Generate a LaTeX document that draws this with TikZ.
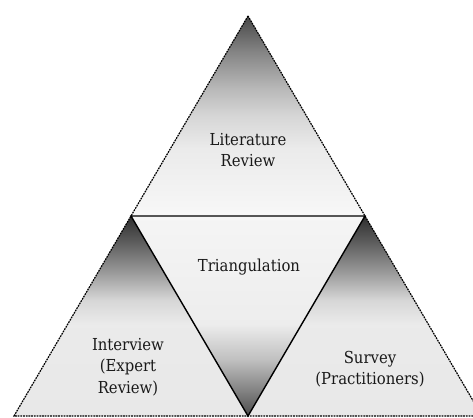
\documentclass[tikz,border=0pt]{standalone}
\usepackage{fontspec}
\setmainfont{DejaVu Serif Condensed}
\pgfdeclareverticalshading{topfade}{100bp}{color(0bp)=(black!3); color(25bp)=(black!3); color(42bp)=(black!8); color(50bp)=(black!16); color(57bp)=(black!28); color(66bp)=(black!48); color(75bp)=(black!72); color(100bp)=(black!72)}
\pgfdeclareverticalshading{lowfade}{100bp}{color(0bp)=(black!8); color(25bp)=(black!9); color(48bp)=(black!8); color(54bp)=(black!16); color(61bp)=(black!40); color(69bp)=(black!65); color(75bp)=(black!82); color(100bp)=(black!82)}
\pgfdeclareverticalshading{midfade}{100bp}{color(0bp)=(black!70); color(25bp)=(black!70); color(31bp)=(black!50); color(39bp)=(black!25); color(48bp)=(black!7); color(75bp)=(black!4); color(100bp)=(black!4)}
\tikzset{
  outer/.style={draw=black, line width=1.2pt, dash pattern=on 1.8pt off 0.9pt},
  inner/.style={draw=black, line width=1.4pt},
  lbl/.style={align=center, font=\fontsize{16.5}{21.5}\selectfont, text=black!90, inner sep=0pt}
}
\begin{document}
\begin{tikzpicture}[x=1pt,y=-1pt]
\useasboundingbox (0,0) rectangle (473,417);
\fill[white] (0,0) rectangle (473,417);
\coordinate (A) at (248,16);
\coordinate (L) at (14,416);
\coordinate (R) at (482,416);
\coordinate (ML) at (131,216);
\coordinate (MR) at (365,216);
\coordinate (MB) at (248,416);
% shadings
\shade[shading=topfade] (A)--(ML)--(MR)--cycle;
\shade[shading=lowfade] (ML)--(L)--(MB)--cycle;
\shade[shading=lowfade] (MR)--(MB)--(R)--cycle;
\shade[shading=midfade] (ML)--(MR)--(MB)--cycle;
% lines
\draw[inner] (ML)--(MR)--(MB)--cycle;
\draw[outer] (A)--(L)--(R)--cycle;
% labels
\node[lbl] (lit) at (248,150) {Literature\\Review};
\node[lbl] (tri) at (249,267) {Triangulation};
\node[lbl] (int) at (128,367) {Interview\\(Expert\\Review)};
\node[lbl] (sur) at (370,369) {Survey\\(Practitioners)};
\end{tikzpicture}
\end{document}
